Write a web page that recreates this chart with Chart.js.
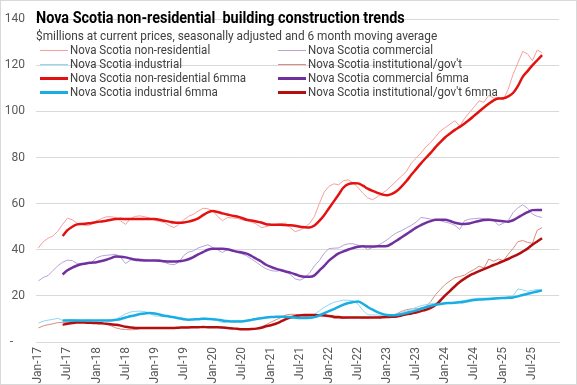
<!DOCTYPE html>
<html>
<head>
<meta charset="utf-8">
<script src="https://cdn.jsdelivr.net/npm/chart.js@4.4.1/dist/chart.umd.min.js"></script>
<style>
  html, body { margin: 0; padding: 0; background: #fff; }
  #wrap { position: relative; width: 577px; height: 385px; box-sizing: border-box; border: 1px solid #d9d9d9; overflow: hidden; }
  #wrap canvas { position: absolute; left: 0; top: 0; }
  .ttl { position: absolute; left: 35px; top: 7px; font: bold 16px Roboto, sans-serif; color: #000; white-space: nowrap; transform: scaleX(0.9); transform-origin: 0 0; }
  .sub { position: absolute; left: 35px; top: 27px; font: 13px Roboto, sans-serif; color: #404040; white-space: nowrap; transform: scaleX(0.91); transform-origin: 0 0; }
  .leg { position: absolute; font: 12px Roboto, sans-serif; color: #404040; white-space: nowrap; height: 14px; line-height: 14px; }
  .leg i { display: inline-block; width: 28px; vertical-align: middle; margin-right: 2px; }
  .leg span { display: inline-block; transform: scaleX(0.96); transform-origin: 0 50%; }
</style>
</head>
<body>
<div id="wrap">
  <canvas id="chart" width="575" height="383"></canvas>
  <div class="ttl">Nova Scotia non-residential&nbsp; building construction trends</div>
  <div class="sub">$millions at current prices, seasonally adjusted and 6 month moving average</div>
  <div id="legend"></div>
</div>
<script>
var monthNames = ["Jan", "Feb", "Mar", "Apr", "May", "Jun", "Jul", "Aug", "Sep", "Oct", "Nov", "Dec"];
var years = ["17", "18", "19", "20", "21", "22", "23", "24", "25"];
var months = [];
years.forEach(function (y) { monthNames.forEach(function (m) { months.push(m + "-" + y); }); });

var yTicks = [0, 20, 40, 60, 80, 100, 120, 140];

var nonRes = [40.8, 43.5, 45, 46, 48, 51, 53.7, 53, 51.5, 51, 50.4, 51,
  52.5, 53.5, 54.3, 54.3, 54, 52.5, 51, 53.5, 54.5, 54.7, 54.3, 53.7,
  52.8, 52.3, 51.9, 50.5, 49.6, 51, 53, 54.5, 55.4, 56.8, 58, 57.8,
  56.8, 54.5, 52.6, 54, 53.8, 53.6, 53, 52.6, 52, 51.2, 49.6, 50,
  50.6, 51, 51.3, 51.6, 49.6, 47.9, 48.5, 49.8, 51.4, 54.5, 60, 65,
  67.5, 68.6, 68.2, 70, 70.3, 69, 67, 64.5, 62.5, 61.7, 63, 64.5,
  66, 68, 70, 72, 74, 77.6, 79.7, 82, 84.6, 86.5, 89, 91.5,
  93, 94.5, 96, 93.6, 97, 99.5, 102, 104.6, 104, 107, 105.8, 106,
  105, 109.6, 116, 121, 126, 125, 122, 126.6, 125.5];

var commercial = [26.5, 28, 28.8, 31, 33, 34.6, 35.5, 35.3, 34, 33.9, 33.9, 34.6,
  36.5, 37.3, 37.6, 37.8, 38, 36.7, 34, 35.5, 36.2, 36, 35.8, 35.3,
  35.5, 35.7, 34.6, 33.8, 33.5, 34.6, 37.5, 39, 39.5, 40.8, 41.5, 42.2,
  41, 40, 38.8, 40.1, 39.5, 38.8, 38.2, 37.4, 36, 34.6, 33, 31.8,
  31, 30.7, 31, 30.5, 29.3, 27.4, 26.8, 27.9, 30, 33, 35.3, 38.5,
  40.5, 40.7, 40.8, 42, 42.6, 42.6, 42, 41.5, 40.1, 41, 41.8, 43,
  44.3, 46, 47.4, 48.3, 49.5, 50.6, 52, 54, 53.7, 53.3, 53, 52.6,
  52, 51.5, 50.6, 48.8, 52.6, 53.3, 53.5, 53.7, 53.5, 53.3, 52.9, 50.6,
  51.5, 52.6, 56.1, 58.2, 59.5, 58, 55.5, 54.5, 54];

var industrial = [8.2, 9, 9.5, 9.8, 10.3, 9.3, 9.6, 9.8, 9.5, 9.3, 9.5, 9.4,
  9.3, 9.5, 9.4, 9.6, 9.9, 11, 12.2, 13, 13.3, 13.4, 13.2, 12.4,
  11.3, 11.2, 11, 11, 10.6, 10.2, 9.8, 9.6, 9.8, 10.2, 10.3, 10.2,
  9.8, 9.2, 8.4, 8.6, 9.2, 9.4, 9.3, 9.4, 9.8, 10.3, 10.5, 10.6,
  10.8, 11, 11.2, 11, 10.6, 10.3, 10.3, 10.3, 10.8, 12, 13.5, 15,
  16.2, 17.2, 17.7, 18.2, 18.1, 17.9, 16.5, 13.7, 11.8, 11.7, 11.7, 11.4,
  11.2, 11.6, 12, 12.7, 13.4, 14.2, 15, 15.7, 16.2, 16.6, 16.8, 16.8,
  16.8, 17, 17.2, 17.6, 18, 18.4, 18.8, 19, 19, 19, 19.2, 19.3,
  19.3, 19.6, 20, 23, 22.6, 22, 22.4, 22.8, 22.4];

var institutional = [6.1, 7, 7.5, 7.9, 8.4, 8.5, 8.5, 8.7, 8.9, 8.5, 8.2, 8.3,
  8.5, 8.2, 7.8, 7, 6.1, 5.6, 5.4, 5.3, 5.4, 5.8, 6.1, 6.1,
  6.1, 6, 6.2, 6.3, 6.2, 6.3, 6.4, 6.5, 6.5, 6.4, 6.4, 6.3,
  6.4, 6.3, 6.1, 6.1, 6, 5.8, 5.5, 5.4, 5.5, 5.7, 6.5, 7.5,
  8.6, 9.6, 10.5, 11.7, 12, 12, 11.7, 11, 11.3, 11.7, 12, 12.1,
  11.2, 10.3, 10.3, 10.3, 10.5, 10.7, 10.6, 10.4, 10.4, 10.6, 10.8, 10.9,
  11, 11.5, 12.3, 13.3, 14, 14.4, 14.4, 14.6, 15.3, 17.5, 20.5, 22.8,
  25, 26.5, 27.9, 28.4, 29, 30.4, 31.5, 32.9, 32.1, 36, 35, 36,
  35.3, 38, 40.5, 43.5, 44, 43.2, 42.8, 48.5, 49.6];

// 6 month moving averages, first value at Jun-17
var nonRes6 = [null, null, null, null, null, 46, 48.5, 50, 51, 51.2, 51.4, 51.6,
  52, 52.3, 52.6, 53, 53.3, 53.4, 53.3, 53.3, 53.3, 53.3, 53.3, 53.3,
  53.3, 53, 52.6, 52.2, 51.8, 51.7, 51.8, 52.2, 52.8, 53.6, 55, 56.2,
  56.8, 56.4, 55.8, 55.3, 54.8, 54.4, 53.8, 53, 52.7, 52.3, 51.8, 51.1,
  50.9, 50.8, 50.8, 50.7, 50.6, 50.4, 50, 49.8, 49.7, 50.5, 52.5, 55,
  58, 61, 64, 67, 68.5, 68.9, 68.8, 67.8, 66.5, 65.5, 64.7, 64,
  63.6, 64.2, 65.5, 67.5, 69.8, 72.5, 75, 77.5, 79.8, 82, 84.5, 86.7,
  88.8, 90.4, 92, 93.3, 94.8, 96.4, 98.2, 100, 101.7, 103.3, 104.8, 105.6,
  105.7, 106.5, 108, 111, 115, 117.5, 120, 122.2, 124.4];

var commercial6 = [null, null, null, null, null, 29.3, 31.1, 32.3, 33.2, 33.8, 34.2, 34.4,
  34.6, 35.1, 35.7, 36.4, 37.1, 37, 36.7, 36.2, 35.7, 35.5, 35.3, 35.3,
  35.3, 35.2, 35, 34.9, 34.9, 35, 35.3, 35.9, 36.8, 38, 39, 40,
  40.4, 40.4, 40.4, 40.2, 39.7, 39.2, 38.8, 38.3, 37.3, 36.1, 34.9, 33.5,
  32.6, 31.8, 31.2, 30.6, 30.1, 29.4, 28.6, 28.3, 28.3, 28.9, 31, 33,
  35.3, 37, 38.4, 39.3, 40.1, 40.8, 41.3, 41.5, 41.4, 41.4, 41.5, 41.5,
  41.6, 42.7, 44, 45.4, 46.8, 48.2, 49.6, 50.7, 51.7, 52.4, 53, 53,
  53, 52.5, 51.7, 51.3, 51.2, 51.4, 52, 52.5, 52.9, 53, 52.8, 52.6,
  52.4, 52.2, 52.8, 54, 55.2, 56.3, 57.2, 57.3, 57.2];

var industrial6 = [null, null, null, null, null, 9.3, 9.3, 9.3, 9.3, 9.3, 9.3, 9.3,
  9.3, 9.3, 9.3, 9.3, 9.6, 10, 10.6, 11.2, 11.6, 12.1, 12.4, 12.6,
  12.4, 11.9, 11.4, 11.1, 10.7, 10.3, 9.9, 9.7, 9.8, 9.9, 10.1, 10,
  9.9, 9.7, 9.3, 9.1, 8.9, 8.9, 8.9, 9.2, 9.6, 10, 10.3, 10.6,
  10.8, 10.9, 11, 10.9, 10.8, 10.6, 10.4, 10.4, 10.5, 10.8, 11.5, 12.5,
  13.4, 14.3, 15.2, 16.2, 16.9, 17.3, 17.6, 16.6, 15.2, 14, 13, 12.2,
  11.7, 11.6, 11.7, 12.1, 12.6, 13.1, 13.7, 14.4, 15.1, 15.7, 16.2, 16.5,
  16.8, 16.9, 17, 17.2, 17.5, 17.9, 18.2, 18.4, 18.5, 18.6, 18.8, 19,
  19.1, 19.2, 19.3, 19.8, 20.4, 20.9, 21.4, 21.9, 22.4];

var institutional6 = [null, null, null, null, null, 7.5, 7.9, 8.2, 8.5, 8.5, 8.4, 8.3,
  8.2, 8.1, 7.9, 7.7, 7.5, 7.1, 6.6, 6.3, 6.1, 6.1, 6.1, 6.1,
  6.1, 6.1, 6.1, 6.1, 6.1, 6.2, 6.3, 6.3, 6.4, 6.4, 6.5, 6.4,
  6.4, 6.4, 6.3, 6.1, 5.9, 5.7, 5.5, 5.5, 5.6, 5.8, 6.2, 6.8,
  7.3, 7.9, 8.8, 9.8, 10.6, 11.2, 11.5, 11.7, 11.7, 11.7, 11.6, 11.5,
  11.3, 11, 10.8, 10.6, 10.6, 10.6, 10.6, 10.6, 10.6, 10.6, 10.6, 10.7,
  10.8, 10.9, 11.1, 11.5, 12, 12.4, 12.8, 13.4, 14, 14.8, 16, 18,
  20.2, 22.2, 24.2, 26, 27.5, 28.8, 29.8, 30.7, 31.6, 32.5, 33.4, 34.2,
  35.1, 36, 37, 38, 39.2, 40.5, 42.2, 43.6, 45];

var series = [
  { label: "Nova Scotia non-residential", data: nonRes, color: "#f4a09c", width: 1, thick: false },
  { label: "Nova Scotia commercial", data: commercial, color: "#b9a2d6", width: 1, thick: false },
  { label: "Nova Scotia industrial", data: industrial, color: "#8fd8f2", width: 1, thick: false },
  { label: "Nova Scotia institutional/gov't", data: institutional, color: "#d98d84", width: 1, thick: false },
  { label: "Nova Scotia non-residential 6mma", data: nonRes6, color: "#e3110f", width: 2.5, thick: true },
  { label: "Nova Scotia commercial 6mma", data: commercial6, color: "#7030a0", width: 2.5, thick: true },
  { label: "Nova Scotia industrial 6mma", data: industrial6, color: "#19aee3", width: 2.5, thick: true },
  { label: "Nova Scotia institutional/gov't 6mma", data: institutional6, color: "#b40f0f", width: 2.5, thick: true }
];

// html legend, two columns
var legendBox = document.getElementById("legend");
series.forEach(function (s, i) {
  var d = document.createElement("div");
  d.className = "leg";
  d.style.left = (i % 2 === 0 ? 39 : 277) + "px";
  d.style.top = (42 + Math.floor(i / 2) * 14) + "px";
  d.innerHTML = '<i style="height:' + (s.thick ? 3 : 1) + 'px;background:' + s.color + '"></i><span>' + s.label + '</span>';
  legendBox.appendChild(d);
});

var fontFam = "Roboto, sans-serif";

new Chart(document.getElementById("chart"), {
  type: "line",
  data: {
    labels: months,
    datasets: series.map(function (s) {
      return {
        label: s.label,
        data: s.data,
        borderColor: s.color,
        backgroundColor: s.color,
        borderWidth: s.width,
        pointRadius: 0,
        tension: s.thick ? 0.4 : 0,
        cubicInterpolationMode: s.thick ? "monotone" : "default",
        order: s.thick ? 0 : 1,
        spanGaps: false
      };
    })
  },
  options: {
    responsive: false,
    animation: false,
    layout: { padding: { top: 6, right: 0, bottom: 0, left: 0 } },
    plugins: { legend: { display: false }, tooltip: { enabled: false } },
    scales: {
      x: {
        offset: true,
        grid: { display: false, drawTicks: false },
        border: { display: true, color: "#d9d9d9", width: 1 },
        ticks: {
          autoSkip: false,
          maxRotation: 90,
          minRotation: 90,
          padding: 5,
          color: "#595959",
          font: { family: fontFam, size: 12 },
          callback: function (v, i) { return i % 6 === 0 ? months[i] : ""; }
        },
        afterFit: function (s) { s.height = 42; }
      },
      y: {
        min: 0,
        max: 140,
        afterBuildTicks: function (s) { s.ticks = yTicks.map(function (v) { return { value: v }; }); },
        grid: { color: "#d9d9d9", drawTicks: false },
        border: { display: false },
        ticks: {
          padding: 11,
          color: "#595959",
          font: { family: fontFam, size: 12 },
          callback: function (v) { return v === 0 ? "-    " : v; }
        },
        afterFit: function (s) { s.width = 35; }
      }
    }
  }
});
</script>
</body>
</html>
